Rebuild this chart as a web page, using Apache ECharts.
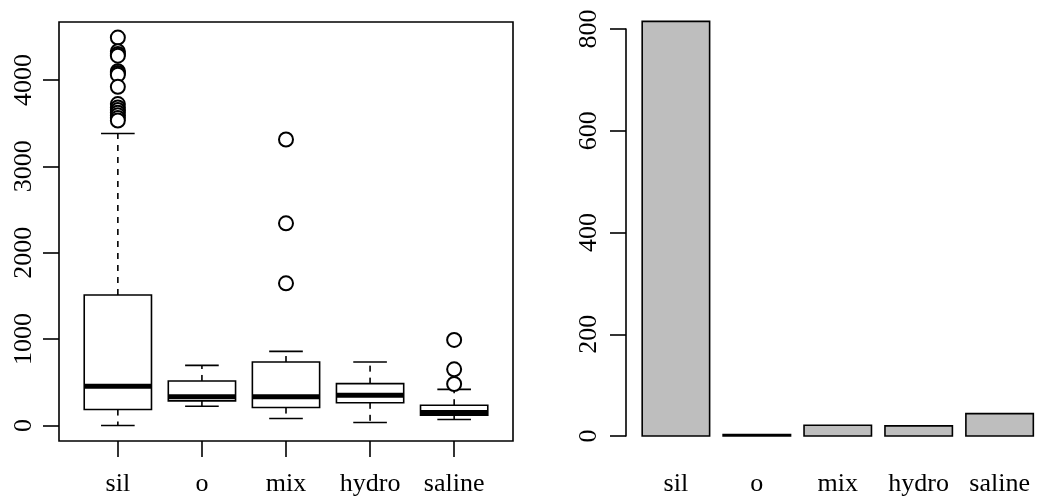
<!DOCTYPE html>
<html>
<head>
<meta charset="utf-8">
<script src="https://cdn.jsdelivr.net/npm/echarts@6/dist/echarts.min.js"></script>
<style>
  html, body { margin: 0; padding: 0; background: #fff; }
  #chart { width: 1063px; height: 497px; }
</style>
</head>
<body>
<div id="chart"></div>
<script>
// Groups shown on both panels
const categories = ['sil', 'o', 'mix', 'hydro', 'saline'];

// Box-and-whisker summaries per group
const whiskerLow  = [0,    223, 81,  35,  69];
const q1          = [184,  285, 207, 262, 119];
const median      = [455,  332, 331, 350, 150];
const q3          = [1510, 515, 734, 484, 234];
const whiskerHigh = [3380, 695, 857, 734, 418];

// Points beyond the whiskers
const outliersSil = [4490, 4330, 4300, 4280, 4100, 4080, 4060, 3920, 3720, 3680, 3650, 3620, 3590, 3560, 3530];
const outliersMix = [3310, 2340, 1645];
const outliersSaline = [990, 650, 480];

// Number of records per group
const counts = [815, 3, 21, 20, 44];

// Axis tick values
const boxTicks = [0, 1000, 2000, 3000, 4000];
const countTicks = [0, 200, 400, 600, 800];

const FONT = 'Liberation Serif';
const LW = 1.6;
const textStyle = { color: '#000', fontFamily: FONT, fontSize: 26 };

const boxPositions = categories.map((_, i) => i + 1);
const barCenters = categories.map((_, i) => 0.7 + 1.2 * i);

const boxData = categories.map((_, i) =>
  [boxPositions[i], whiskerLow[i], q1[i], median[i], q3[i], whiskerHigh[i]]);

const outlierData = []
  .concat(outliersSil.map(v => [boxPositions[0], v]))
  .concat(outliersMix.map(v => [boxPositions[2], v]))
  .concat(outliersSaline.map(v => [boxPositions[4], v]));

const barData = categories.map((_, i) => [barCenters[i], counts[i]]);

function renderBox(params, api) {
  const x = api.value(0);
  const half = api.size([0.8, 0])[0] / 2;
  const staple = half / 2;
  const lo = api.coord([x, api.value(1)]);
  const b1 = api.coord([x, api.value(2)]);
  const md = api.coord([x, api.value(3)]);
  const b3 = api.coord([x, api.value(4)]);
  const hi = api.coord([x, api.value(5)]);
  const cx = lo[0];
  const solid = { stroke: '#000', lineWidth: LW, lineDash: null, fill: null };
  const dashed = { stroke: '#000', lineWidth: LW, lineDash: [6, 6], fill: null };
  return {
    type: 'group',
    children: [
      { type: 'line', shape: { x1: cx, y1: b3[1], x2: cx, y2: hi[1] }, style: dashed },
      { type: 'line', shape: { x1: cx, y1: b1[1], x2: cx, y2: lo[1] }, style: dashed },
      { type: 'line', shape: { x1: cx - staple, y1: hi[1], x2: cx + staple, y2: hi[1] }, style: solid },
      { type: 'line', shape: { x1: cx - staple, y1: lo[1], x2: cx + staple, y2: lo[1] }, style: solid },
      { type: 'rect', shape: { x: cx - half, y: b3[1], width: 2 * half, height: b1[1] - b3[1] },
        style: { fill: '#fff', stroke: '#000', lineWidth: LW, lineDash: null } },
      { type: 'line', shape: { x1: cx - half, y1: md[1], x2: cx + half, y2: md[1] },
        style: { stroke: '#000', lineWidth: 5, lineDash: null } }
    ]
  };
}

function renderBar(params, api) {
  const x = api.value(0);
  const w = api.size([1, 0])[0];
  const top = api.coord([x, api.value(1)]);
  const base = api.coord([x, 0]);
  return {
    type: 'rect',
    shape: { x: top[0] - w / 2, y: top[1], width: w, height: base[1] - top[1] },
    style: { fill: '#bebebe', stroke: '#000', lineWidth: LW }
  };
}

const chart = echarts.init(document.getElementById('chart'), null, { renderer: 'canvas' });

chart.setOption({
  animation: false,
  backgroundColor: '#fff',
  grid: [
    { left: 59, top: 22, width: 454, height: 420.6, show: true,
      borderColor: '#000', borderWidth: LW, backgroundColor: 'transparent' },
    { left: 626, top: 29, width: 471, height: 408.7, show: false }
  ],
  xAxis: [
    { gridIndex: 0, type: 'value', min: 0.3, max: 5.7,
      splitLine: { show: false }, axisLine: { show: false, onZero: false },
      axisTick: { show: true, customValues: boxPositions, length: 16, lineStyle: { color: '#000', width: LW } },
      axisLabel: Object.assign({ customValues: boxPositions, margin: 30,
        formatter: v => categories[Math.round(v) - 1] }, textStyle) },
    { gridIndex: 1, type: 'value', min: -0.04, max: 6.44,
      splitLine: { show: false }, axisLine: { show: false, onZero: false },
      axisTick: { show: false },
      axisLabel: Object.assign({ customValues: barCenters, margin: 35,
        formatter: v => categories[Math.round((v - 0.7) / 1.2)] }, textStyle) }
  ],
  yAxis: [
    { gridIndex: 0, type: 'value', min: -180, max: 4670,
      splitLine: { show: false }, axisLine: { show: false, onZero: false },
      axisTick: { show: true, customValues: boxTicks, length: 16, lineStyle: { color: '#000', width: LW } },
      axisLabel: Object.assign({ customValues: boxTicks, rotate: 90, margin: 22,
        formatter: v => String(v) }, textStyle) },
    { gridIndex: 1, type: 'value', min: countTicks[0], max: countTicks[countTicks.length - 1],
      splitLine: { show: false },
      axisLine: { show: true, onZero: false, lineStyle: { color: '#000', width: LW } },
      axisTick: { show: true, customValues: countTicks, length: 16, lineStyle: { color: '#000', width: LW } },
      axisLabel: Object.assign({ customValues: countTicks, rotate: 90, margin: 24,
        formatter: v => String(v) }, textStyle) }
  ],
  series: [
    { type: 'custom', xAxisIndex: 0, yAxisIndex: 0, renderItem: renderBox,
      encode: { x: 0, y: [1, 2, 3, 4, 5] }, data: boxData, clip: false, z: 2 },
    { type: 'scatter', xAxisIndex: 0, yAxisIndex: 0, data: outlierData,
      symbol: 'emptyCircle', symbolSize: 14, z: 3,
      itemStyle: { color: '#000', borderColor: '#000', borderWidth: LW, opacity: 1 } },
    { type: 'custom', xAxisIndex: 1, yAxisIndex: 1, renderItem: renderBar,
      encode: { x: 0, y: 1 }, data: barData, clip: false }
  ]
});
</script>
</body>
</html>
